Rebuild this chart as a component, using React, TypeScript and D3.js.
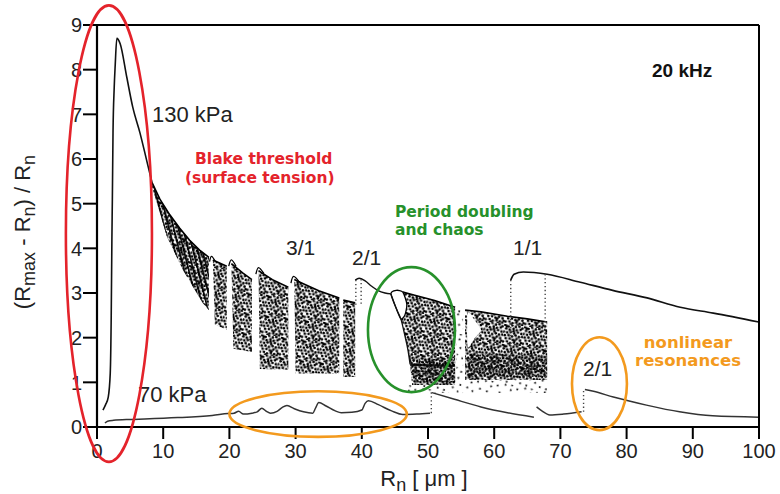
import React from 'react';
import * as d3 from 'd3';

const W = 780;
const H = 494;

const xTicks = [0, 10, 20, 30, 40, 50, 60, 70, 80, 90, 100];
const yTicks = [0, 1, 2, 3, 4, 5, 6, 7, 8, 9];

// 130 kPa: Blake peak and decay (Rn [um], (Rmax-Rn)/Rn)
const curve130 = [
  [0.9, 0.38], [1.3, 0.5], [1.7, 0.67], [2.0, 1.2], [2.15, 2.5], [2.25, 4.2], [2.32, 5.1],
  [2.42, 6.6], [2.6, 7.6], [2.75, 8.1], [3.0, 8.7], [3.5, 8.58], [4.5, 7.83], [5.4, 7.16],
  [6.5, 6.58], [7.5, 5.97], [8.3, 5.48],
];

// chaotic bands at 130 kPa: upper edge and lower edge
const band1Top = [[8.3, 5.48], [9.5, 5.1], [11, 4.75], [12.5, 4.45], [14, 4.18], [15.5, 3.96], [16.9, 3.8]];
const band1Bot = [[8.3, 5.38], [10.6, 4.25], [13, 3.51], [14.8, 3.06], [16, 2.77], [16.9, 2.62]];
const band2Top = [[17.5, 3.74], [19.6, 3.6]];
const band2Bot = [[17.8, 2.3], [19.6, 2.17]];
const band3Top = [[20.3, 3.66], [22, 3.45], [23.4, 3.3]];
const band3Bot = [[20.6, 1.75], [23.4, 1.68]];
const band4Top = [[24.4, 3.5], [26.5, 3.3], [28.9, 3.13]];
const band4Bot = [[24.6, 1.3], [28.9, 1.28]];
const band5Top = [[29.8, 3.3], [31, 3.22], [33.5, 3.05], [36.6, 2.89]];
const band5Bot = [[30, 1.2], [36.6, 1.2]];
const band6Top = [[37.2, 2.84], [39.0, 2.78]];
const band6Bot = [[37.2, 1.12], [39.0, 1.12]];
const band7Top = [[46.2, 3.02], [48, 2.95], [51, 2.83], [54.1, 2.68]];
const band7Bot = [[45.9, 2.42], [46.5, 2.05], [47.0, 1.7], [47.3, 1.4], [47.6, 0.94], [54.1, 0.94]];
const band8Top = [[55.6, 2.62], [58, 2.58], [62, 2.48], [65, 2.42], [68, 2.35]];
const band8Bot = [[55.6, 1.05], [68, 1.05]];

// denser sub-regions (overlaid a second time)
const dark7Top = [[47.6, 1.55], [54.1, 1.5]];
const dark7Bot = [[47.8, 1.0], [54.1, 1.0]];
const dark8Top = [[56.0, 1.65], [68, 1.6]];
const dark8Bot = [[56.0, 1.12], [68, 1.12]];

// sparse scatter below / between bands
const sparse1Top = [[47.0, 0.96], [54.1, 0.94]];
const sparse1Bot = [[47.0, 0.76], [54.1, 0.76]];
const sparse2Top = [[54.3, 2.62], [55.3, 2.62]];
const sparse2Bot = [[54.3, 0.76], [55.3, 0.76]];
const sparse3Top = [[55.6, 1.05], [68, 1.05]];
const sparse3Bot = [[55.6, 0.76], [68, 0.76]];

// dense strip inside the chaotic region after the 2/1 window
const darkLine1 = [[47.3, 1.39], [54.0, 1.37]];

// small periodic windows (hooks) at the start of each band
const hook2 = [[17.0, 3.7], [17.3, 3.82], [17.9, 3.7]];
const hook3 = [[19.9, 3.6], [20.3, 3.74], [21.0, 3.6]];
const hook4 = [[24.0, 3.42], [24.4, 3.57], [25.2, 3.44]];
const hook5 = [[29.3, 3.22], [29.7, 3.37], [30.6, 3.24]];

// 2/1 window at 130 kPa, period doubling bubble
const per21High = [[39.0, 3.29], [39.6, 3.33], [40.5, 3.27], [41.5, 3.15], [42.4, 3.06], [43.5, 3.0], [44.4, 2.98]];
const lowerBranch = [[44.4, 2.98], [45.3, 2.62], [45.9, 2.42], [46.5, 2.05], [47.0, 1.7], [47.3, 1.4]];
const bubble21 = [[44.4, 2.98], [45.2, 3.06], [46.2, 3.02], [46.8, 2.75], [46.5, 2.5], [45.9, 2.42], [45.3, 2.62]];
const bubble8 = [[56.0, 2.55], [57.0, 2.4], [58.0, 2.17], [57.0, 1.98], [56.0, 1.79]];

// 1/1 window at 130 kPa
const per11High = [[62.5, 3.29], [63, 3.42], [64.4, 3.47], [68, 3.42], [73, 3.24], [77.9, 3.06], [83.1, 2.89], [88.1, 2.68], [93.1, 2.55], [100, 2.35]];

// 70 kPa curve segments
const low70a = [
  [1.2, 0.09], [1.6, 0.13], [2.5, 0.15], [5, 0.17], [7.2, 0.18], [12.2, 0.21], [17.4, 0.26], [19.8, 0.3],
  [20.7, 0.31], [21.4, 0.35], [22.1, 0.29], [23.4, 0.31], [24.2, 0.34], [24.9, 0.42], [25.6, 0.35],
  [26.2, 0.31], [27.2, 0.35], [28.0, 0.44], [28.7, 0.48], [29.8, 0.41], [31.2, 0.34], [32.6, 0.31],
  [33.0, 0.42], [33.5, 0.55], [34.6, 0.47], [36.0, 0.36], [36.9, 0.32], [38.5, 0.33], [40.0, 0.38],
  [40.5, 0.53], [41.0, 0.59], [42.5, 0.5], [44.5, 0.36], [46.2, 0.28], [48.3, 0.29], [50.3, 0.31],
];
const low70b = [[50.6, 0.77], [54, 0.62], [58, 0.45], [62, 0.32], [66, 0.22]];
const low70c = [[66.4, 0.45], [67.2, 0.36], [68.4, 0.27], [70.5, 0.29], [73.2, 0.34]];
const low70d = [[73.7, 0.84], [75, 0.8], [78, 0.67], [83, 0.49], [88, 0.34], [93, 0.25], [100, 0.22]];

// dotted jumps: [Rn, from, to]
const jumps = [
  [39.1, 3.29, 2.7], [39.9, 3.31, 2.7], [62.5, 3.29, 1.05], [67.7, 3.42, 1.05],
  [50.5, 0.31, 0.78], [73.5, 0.34, 0.85],
];

// highlight ellipses: [cx, cy, rx, ry] in data units
const redEllipse = [1.8, 4.33, 6.5, 5.11];
const greenEllipse = [47.5, 2.18, 6.57, 1.4];
const orangeEllipse1 = [33.4, 0.29, 13.4, 0.51];
const orangeEllipse2 = [75.9, 0.97, 4.15, 1.04];

// pattern texture (style) for scatter clouds
const denseDots = [
  [1.2, 0.8], [4.7, 2.1], [8.3, 0.5], [11.9, 1.7], [15.4, 0.9], [18.6, 2.6],
  [2.5, 4.3], [6.1, 5.2], [9.8, 3.9], [13.2, 4.8], [16.9, 4.1], [0.4, 7.6],
  [3.9, 8.1], [7.4, 7.3], [11.1, 8.4], [14.6, 7.0], [18.2, 7.9], [1.8, 11.2],
  [5.6, 10.7], [9.2, 11.6], [12.7, 10.3], [16.1, 11.4], [19.4, 10.9], [3.2, 14.1],
  [7.0, 13.8], [10.5, 14.9], [14.0, 13.6], [17.6, 14.7], [0.9, 17.5], [4.8, 17.0],
  [8.1, 18.3], [11.8, 17.4], [15.3, 18.1], [18.9, 17.2], [6.4, 19.6], [13.5, 19.8],
  [10.3, 6.2], [17.8, 19.4], [2.9, 1.9], [12.4, 15.6],
];
const sparseDots = [
  [2.1, 3.4], [9.7, 1.2], [15.8, 5.6], [5.3, 9.9], [12.6, 11.3], [18.4, 13.8], [3.7, 16.9], [10.2, 18.1], [16.3, 0.6],
];

const RED = '#e4232b';
const GREEN = '#27912b';
const ORANGE = '#f39a1e';

export default function App() {
  const x = d3.scaleLinear().domain([0, 100]).range([97, 759]);
  const y = d3.scaleLinear().domain([0, 9]).range([427, 25]);
  const xs = (v: number) => x(v) - x(0);
  const ys = (v: number) => y(0) - y(v);

  const curve = d3.line<number[]>().x((d) => x(d[0])).y((d) => y(d[1])).curve(d3.curveMonotoneX);
  const lin = d3.line<number[]>().x((d) => x(d[0])).y((d) => y(d[1]));
  const closed = d3.line<number[]>().x((d) => x(d[0])).y((d) => y(d[1])).curve(d3.curveCardinalClosed.tension(0.3));
  const natural = d3.line<number[]>().x((d) => x(d[0])).y((d) => y(d[1])).curve(d3.curveNatural);
  const poly = (top: number[][], bot: number[][]) => (lin([...top, ...bot.slice().reverse()]) || '') + 'Z';

  const denseBands = [
    [band1Top, band1Bot], [band2Top, band2Bot], [band3Top, band3Bot], [band4Top, band4Bot],
    [band5Top, band5Bot], [band6Top, band6Bot], [band7Top, band7Bot], [band8Top, band8Bot],
  ];
  const darkBands = [[dark7Top, dark7Bot], [dark8Top, dark8Bot]];
  const sparseBands = [[sparse1Top, sparse1Bot], [sparse2Top, sparse2Bot], [sparse3Top, sparse3Bot]];
  const hooks = [hook2, hook3, hook4, hook5];
  const ellipses: [number[], string][] = [
    [redEllipse, RED], [greenEllipse, GREEN], [orangeEllipse1, ORANGE], [orangeEllipse2, ORANGE],
  ];

  const sans = 'Liberation Sans, Arial, Helvetica, sans-serif';
  const boldFont = 'DejaVu Sans, Verdana, sans-serif';

  return (
    <svg width={W} height={H} style={{ position: 'absolute', left: 0, top: 0, background: '#fff' }}>
      <defs>
        <pattern id="dense" width={20} height={20} patternUnits="userSpaceOnUse" patternTransform="rotate(7)">
          {denseDots.map((d, i) => (
            <circle key={i} cx={d[0]} cy={d[1]} r={1.35} fill="#000" />
          ))}
        </pattern>
        <pattern id="dense2" width={20} height={20} patternUnits="userSpaceOnUse" patternTransform="rotate(-23) translate(5,7)">
          {denseDots.map((d, i) => (
            <circle key={i} cx={d[0]} cy={d[1]} r={1.1} fill="#000" />
          ))}
        </pattern>
        <pattern id="stripes" width={4.5} height={20} patternUnits="userSpaceOnUse" patternTransform="rotate(-14)">
          <rect x={0} y={0} width={1.6} height={20} fill="#000" />
        </pattern>
        <pattern id="sparse" width={20} height={20} patternUnits="userSpaceOnUse" patternTransform="rotate(11)">
          {sparseDots.map((d, i) => (
            <circle key={i} cx={d[0]} cy={d[1]} r={1.0} fill="#111" />
          ))}
        </pattern>
      </defs>
      <rect x={0} y={0} width={W} height={H} fill="#fff" />

      {/* scatter clouds */}
      {sparseBands.map((b, i) => (
        <path key={'s' + i} d={poly(b[0], b[1])} fill="url(#sparse)" />
      ))}
      {denseBands.map((b, i) => (
        <path key={'d' + i} d={poly(b[0], b[1])} fill="url(#dense)" />
      ))}
      <path d={poly(band1Top, band1Bot)} fill="url(#stripes)" />
      {darkBands.map((b, i) => (
        <path key={'k' + i} d={poly(b[0], b[1])} fill="url(#dense2)" />
      ))}
      {denseBands.map((b, i) => (
        <path key={'t' + i} d={lin(b[0]) || ''} fill="none" stroke="#000" strokeWidth={1.6} />
      ))}
      <path d={lin(darkLine1) || ''} fill="none" stroke="#000" strokeWidth={2.4} opacity={0.85} />
      <path d={closed(bubble21) || ''} fill="#fff" stroke="#000" strokeWidth={1.3} />
      <path d={closed(bubble8) || ''} fill="#fff" stroke="none" />

      {/* periodic branches */}
      {hooks.map((h, i) => (
        <path key={'h' + i} d={natural(h) || ''} fill="none" stroke="#000" strokeWidth={1.3} />
      ))}
      <path d={curve(curve130) || ''} fill="none" stroke="#111" strokeWidth={1.6} />
      <path d={curve(per21High) || ''} fill="none" stroke="#111" strokeWidth={1.4} />
      <path d={curve(lowerBranch) || ''} fill="none" stroke="#111" strokeWidth={1.3} />
      <path d={curve(per11High) || ''} fill="none" stroke="#111" strokeWidth={1.7} />
      {[low70a, low70b, low70c, low70d].map((s, i) => (
        <path key={'l' + i} d={curve(s) || ''} fill="none" stroke="#333" strokeWidth={1.5} />
      ))}
      {jumps.map((j, i) => (
        <line key={'j' + i} x1={x(j[0])} x2={x(j[0])} y1={y(j[1])} y2={y(j[2])} stroke="#444" strokeWidth={1.4} strokeDasharray="1.3 2.6" />
      ))}

      {/* frame and axes */}
      <line x1={x(0)} x2={x(100)} y1={y(9)} y2={y(9)} stroke="#000" strokeWidth={2} />
      <line x1={x(100)} x2={x(100)} y1={y(9)} y2={y(0)} stroke="#000" strokeWidth={2} />
      <line x1={x(0)} x2={x(100)} y1={y(0)} y2={y(0)} stroke="#000" strokeWidth={2.2} />
      <line x1={x(0)} x2={x(0)} y1={y(9)} y2={y(0)} stroke="#000" strokeWidth={2.2} />
      {yTicks.map((t) => (
        <g key={'yt' + t}>
          <line x1={x(0) - 14} x2={x(0)} y1={y(t)} y2={y(t)} stroke="#000" strokeWidth={2} />
          <text x={82} y={y(t)} dy="0.36em" textAnchor="end" fontFamily={sans} fontSize={20} fill="#222">{t}</text>
        </g>
      ))}
      {xTicks.map((t) => (
        <g key={'xt' + t}>
          <line x1={x(t)} x2={x(t)} y1={y(0)} y2={y(0) + 12} stroke="#000" strokeWidth={2} />
          <text x={x(t)} y={458} textAnchor="middle" fontFamily={sans} fontSize={20} fill="#222">{t}</text>
        </g>
      ))}

      {/* axis titles */}
      <text x={424} y={486} textAnchor="middle" fontFamily={sans} fontSize={22} fill="#222">
        R<tspan fontSize={18} dy={5}>n</tspan><tspan dy={-5}> [ μm ]</tspan>
      </text>
      <text transform="translate(30,232) rotate(-90)" textAnchor="middle" fontFamily={sans} fontSize={22} fill="#222">
        (R<tspan fontSize={18} dy={5}>max</tspan><tspan dy={-5}> - R</tspan><tspan fontSize={18} dy={5}>n</tspan><tspan dy={-5}>) / R</tspan><tspan fontSize={18} dy={5}>n</tspan>
      </text>

      {/* annotations */}
      <text x={652} y={77} fontFamily={sans} fontWeight="bold" fontSize={19} fill="#111">20 kHz</text>
      <text x={152} y={122} fontFamily={sans} fontSize={22} fill="#222">130 kPa</text>
      <text x={138} y={402} fontFamily={sans} fontSize={22} fill="#222">70 kPa</text>
      <text x={286} y={255} fontFamily={sans} fontSize={21} fill="#222">3/1</text>
      <text x={352} y={265} fontFamily={sans} fontSize={21} fill="#222">2/1</text>
      <text x={513} y={255} fontFamily={sans} fontSize={21} fill="#222">1/1</text>
      <text x={583} y={376} fontFamily={sans} fontSize={21} fill="#222">2/1</text>
      <text x={195} y={164} fontFamily={boldFont} fontWeight="bold" fontSize={15.5} fill={RED}>Blake threshold</text>
      <text x={185} y={183} fontFamily={boldFont} fontWeight="bold" fontSize={15.5} fill={RED}>(surface tension)</text>
      <text x={395} y={217} fontFamily={boldFont} fontWeight="bold" fontSize={15.5} fill={GREEN}>Period doubling</text>
      <text x={395} y={235} fontFamily={boldFont} fontWeight="bold" fontSize={15.5} fill={GREEN}>and chaos</text>
      <text x={688} y={348} textAnchor="middle" fontFamily={boldFont} fontWeight="bold" fontSize={16.5} fill={ORANGE}>nonlinear</text>
      <text x={688} y={366} textAnchor="middle" fontFamily={boldFont} fontWeight="bold" fontSize={16.5} fill={ORANGE}>resonances</text>

      {/* highlight ellipses */}
      {ellipses.map(([e, c], i) => (
        <ellipse key={'e' + i} cx={x(e[0])} cy={y(e[1])} rx={xs(e[2])} ry={ys(e[3])} fill="none" stroke={c} strokeWidth={2.6} />
      ))}
    </svg>
  );
}
